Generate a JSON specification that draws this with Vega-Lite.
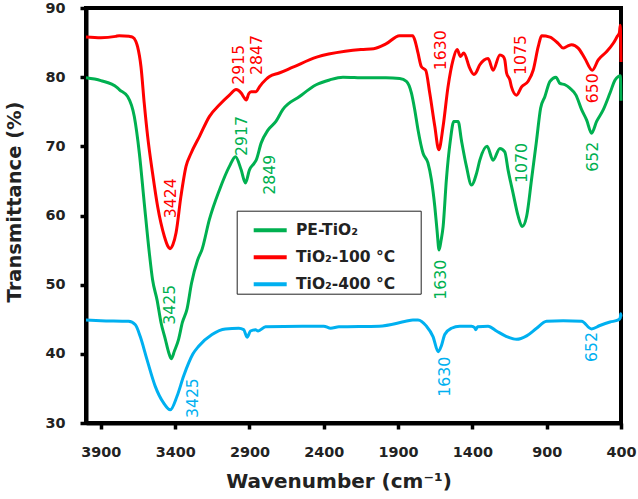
{
  "$schema": "https://vega.github.io/schema/vega-lite/v6.json",
  "width": 535,
  "height": 415,
  "autosize": {"type": "none"},
  "padding": {"left": 86, "top": 8, "right": 17, "bottom": 76},
  "background": "white",
  "config": {
    "view": {"stroke": "black", "strokeWidth": 4},
    "font": "DejaVu Sans"
  },
  "datasets": {
    "spectra": [
      {"series": "TiO₂-100 °C", "wn": 4000, "T": 85.8},
      {"series": "TiO₂-100 °C", "wn": 3900, "T": 85.7},
      {"series": "TiO₂-100 °C", "wn": 3800, "T": 85.9},
      {"series": "TiO₂-100 °C", "wn": 3776, "T": 86.0},
      {"series": "TiO₂-100 °C", "wn": 3710, "T": 85.9},
      {"series": "TiO₂-100 °C", "wn": 3687, "T": 85.8},
      {"series": "TiO₂-100 °C", "wn": 3665, "T": 85.2},
      {"series": "TiO₂-100 °C", "wn": 3653, "T": 84.4},
      {"series": "TiO₂-100 °C", "wn": 3630, "T": 81.5},
      {"series": "TiO₂-100 °C", "wn": 3608, "T": 76.2},
      {"series": "TiO₂-100 °C", "wn": 3585, "T": 71.4},
      {"series": "TiO₂-100 °C", "wn": 3552, "T": 66.1},
      {"series": "TiO₂-100 °C", "wn": 3518, "T": 61.3},
      {"series": "TiO₂-100 °C", "wn": 3473, "T": 57.0},
      {"series": "TiO₂-100 °C", "wn": 3450, "T": 55.6},
      {"series": "TiO₂-100 °C", "wn": 3435, "T": 55.2},
      {"series": "TiO₂-100 °C", "wn": 3415, "T": 55.8},
      {"series": "TiO₂-100 °C", "wn": 3394, "T": 57.5},
      {"series": "TiO₂-100 °C", "wn": 3361, "T": 62.8},
      {"series": "TiO₂-100 °C", "wn": 3327, "T": 67.1},
      {"series": "TiO₂-100 °C", "wn": 3293, "T": 69.0},
      {"series": "TiO₂-100 °C", "wn": 3237, "T": 71.4},
      {"series": "TiO₂-100 °C", "wn": 3170, "T": 74.3},
      {"series": "TiO₂-100 °C", "wn": 3102, "T": 76.0},
      {"series": "TiO₂-100 °C", "wn": 3035, "T": 77.4},
      {"series": "TiO₂-100 °C", "wn": 2990, "T": 78.2},
      {"series": "TiO₂-100 °C", "wn": 2956, "T": 77.7},
      {"series": "TiO₂-100 °C", "wn": 2935, "T": 77.0},
      {"series": "TiO₂-100 °C", "wn": 2922, "T": 76.7},
      {"series": "TiO₂-100 °C", "wn": 2905, "T": 77.6},
      {"series": "TiO₂-100 °C", "wn": 2889, "T": 77.9},
      {"series": "TiO₂-100 °C", "wn": 2855, "T": 77.9},
      {"series": "TiO₂-100 °C", "wn": 2833, "T": 78.6},
      {"series": "TiO₂-100 °C", "wn": 2788, "T": 79.7},
      {"series": "TiO₂-100 °C", "wn": 2765, "T": 80.1},
      {"series": "TiO₂-100 °C", "wn": 2700, "T": 80.6},
      {"series": "TiO₂-100 °C", "wn": 2612, "T": 81.4},
      {"series": "TiO₂-100 °C", "wn": 2448, "T": 82.9},
      {"series": "TiO₂-100 °C", "wn": 2256, "T": 83.75},
      {"series": "TiO₂-100 °C", "wn": 2150, "T": 84.0},
      {"series": "TiO₂-100 °C", "wn": 2064, "T": 84.1},
      {"series": "TiO₂-100 °C", "wn": 1982, "T": 84.8},
      {"series": "TiO₂-100 °C", "wn": 1890, "T": 86.0},
      {"series": "TiO₂-100 °C", "wn": 1802, "T": 86.0},
      {"series": "TiO₂-100 °C", "wn": 1785, "T": 85.2},
      {"series": "TiO₂-100 °C", "wn": 1766, "T": 83.5},
      {"series": "TiO₂-100 °C", "wn": 1743, "T": 81.5},
      {"series": "TiO₂-100 °C", "wn": 1714, "T": 81.0},
      {"series": "TiO₂-100 °C", "wn": 1687, "T": 77.7},
      {"series": "TiO₂-100 °C", "wn": 1653, "T": 72.9},
      {"series": "TiO₂-100 °C", "wn": 1626, "T": 69.5},
      {"series": "TiO₂-100 °C", "wn": 1597, "T": 72.9},
      {"series": "TiO₂-100 °C", "wn": 1564, "T": 78.6},
      {"series": "TiO₂-100 °C", "wn": 1530, "T": 82.5},
      {"series": "TiO₂-100 °C", "wn": 1503, "T": 84.0},
      {"series": "TiO₂-100 °C", "wn": 1480, "T": 83.0},
      {"series": "TiO₂-100 °C", "wn": 1458, "T": 83.5},
      {"series": "TiO₂-100 °C", "wn": 1418, "T": 81.3},
      {"series": "TiO₂-100 °C", "wn": 1390, "T": 80.4},
      {"series": "TiO₂-100 °C", "wn": 1377, "T": 80.6},
      {"series": "TiO₂-100 °C", "wn": 1350, "T": 81.8},
      {"series": "TiO₂-100 °C", "wn": 1294, "T": 82.7},
      {"series": "TiO₂-100 °C", "wn": 1261, "T": 81.0},
      {"series": "TiO₂-100 °C", "wn": 1215, "T": 83.2},
      {"series": "TiO₂-100 °C", "wn": 1193, "T": 83.0},
      {"series": "TiO₂-100 °C", "wn": 1182, "T": 82.5},
      {"series": "TiO₂-100 °C", "wn": 1170, "T": 80.6},
      {"series": "TiO₂-100 °C", "wn": 1148, "T": 79.6},
      {"series": "TiO₂-100 °C", "wn": 1137, "T": 78.6},
      {"series": "TiO₂-100 °C", "wn": 1103, "T": 77.4},
      {"series": "TiO₂-100 °C", "wn": 1069, "T": 78.6},
      {"series": "TiO₂-100 °C", "wn": 1025, "T": 79.4},
      {"series": "TiO₂-100 °C", "wn": 991, "T": 81.0},
      {"series": "TiO₂-100 °C", "wn": 957, "T": 84.4},
      {"series": "TiO₂-100 °C", "wn": 934, "T": 86.0},
      {"series": "TiO₂-100 °C", "wn": 878, "T": 85.8},
      {"series": "TiO₂-100 °C", "wn": 823, "T": 84.9},
      {"series": "TiO₂-100 °C", "wn": 789, "T": 84.2},
      {"series": "TiO₂-100 °C", "wn": 760, "T": 84.5},
      {"series": "TiO₂-100 °C", "wn": 732, "T": 84.7},
      {"series": "TiO₂-100 °C", "wn": 688, "T": 84.2},
      {"series": "TiO₂-100 °C", "wn": 643, "T": 82.7},
      {"series": "TiO₂-100 °C", "wn": 593, "T": 81.0},
      {"series": "TiO₂-100 °C", "wn": 553, "T": 82.5},
      {"series": "TiO₂-100 °C", "wn": 496, "T": 83.7},
      {"series": "TiO₂-100 °C", "wn": 452, "T": 84.9},
      {"series": "TiO₂-100 °C", "wn": 425, "T": 85.9},
      {"series": "TiO₂-100 °C", "wn": 411, "T": 86.4},
      {"series": "TiO₂-100 °C", "wn": 405, "T": 87.5},
      {"series": "TiO₂-100 °C", "wn": 402, "T": 85.0},
      {"series": "TiO₂-100 °C", "wn": 400, "T": 82.2},

      {"series": "PE-TiO₂", "wn": 4000, "T": 79.9},
      {"series": "PE-TiO₂", "wn": 3900, "T": 79.5},
      {"series": "PE-TiO₂", "wn": 3790, "T": 78.5},
      {"series": "PE-TiO₂", "wn": 3776, "T": 78.2},
      {"series": "PE-TiO₂", "wn": 3720, "T": 77.2},
      {"series": "PE-TiO₂", "wn": 3675, "T": 74.3},
      {"series": "PE-TiO₂", "wn": 3641, "T": 69.0},
      {"series": "PE-TiO₂", "wn": 3608, "T": 61.8},
      {"series": "PE-TiO₂", "wn": 3574, "T": 54.6},
      {"series": "PE-TiO₂", "wn": 3552, "T": 50.7},
      {"series": "PE-TiO₂", "wn": 3522, "T": 47.8},
      {"series": "PE-TiO₂", "wn": 3495, "T": 44.5},
      {"series": "PE-TiO₂", "wn": 3466, "T": 42.1},
      {"series": "PE-TiO₂", "wn": 3445, "T": 40.3},
      {"series": "PE-TiO₂", "wn": 3426, "T": 39.3},
      {"series": "PE-TiO₂", "wn": 3405, "T": 40.4},
      {"series": "PE-TiO₂", "wn": 3377, "T": 42.1},
      {"series": "PE-TiO₂", "wn": 3352, "T": 44.5},
      {"series": "PE-TiO₂", "wn": 3320, "T": 46.5},
      {"series": "PE-TiO₂", "wn": 3290, "T": 50.2},
      {"series": "PE-TiO₂", "wn": 3250, "T": 53.5},
      {"series": "PE-TiO₂", "wn": 3219, "T": 55.1},
      {"series": "PE-TiO₂", "wn": 3170, "T": 59.4},
      {"series": "PE-TiO₂", "wn": 3102, "T": 63.7},
      {"series": "PE-TiO₂", "wn": 3035, "T": 67.1},
      {"series": "PE-TiO₂", "wn": 2994, "T": 68.5},
      {"series": "PE-TiO₂", "wn": 2956, "T": 66.6},
      {"series": "PE-TiO₂", "wn": 2927, "T": 64.7},
      {"series": "PE-TiO₂", "wn": 2900, "T": 66.6},
      {"series": "PE-TiO₂", "wn": 2870, "T": 67.5},
      {"series": "PE-TiO₂", "wn": 2855, "T": 68.0},
      {"series": "PE-TiO₂", "wn": 2821, "T": 70.5},
      {"series": "PE-TiO₂", "wn": 2777, "T": 72.3},
      {"series": "PE-TiO₂", "wn": 2722, "T": 73.6},
      {"series": "PE-TiO₂", "wn": 2676, "T": 75.3},
      {"series": "PE-TiO₂", "wn": 2563, "T": 77.2},
      {"series": "PE-TiO₂", "wn": 2451, "T": 78.9},
      {"series": "PE-TiO₂", "wn": 2361, "T": 79.6},
      {"series": "PE-TiO₂", "wn": 2271, "T": 80.0},
      {"series": "PE-TiO₂", "wn": 2119, "T": 79.9},
      {"series": "PE-TiO₂", "wn": 1982, "T": 79.9},
      {"series": "PE-TiO₂", "wn": 1889, "T": 79.8},
      {"series": "PE-TiO₂", "wn": 1844, "T": 79.4},
      {"series": "PE-TiO₂", "wn": 1810, "T": 77.7},
      {"series": "PE-TiO₂", "wn": 1788, "T": 75.3},
      {"series": "PE-TiO₂", "wn": 1766, "T": 72.4},
      {"series": "PE-TiO₂", "wn": 1732, "T": 69.0},
      {"series": "PE-TiO₂", "wn": 1699, "T": 67.6},
      {"series": "PE-TiO₂", "wn": 1676, "T": 65.2},
      {"series": "PE-TiO₂", "wn": 1653, "T": 61.3},
      {"series": "PE-TiO₂", "wn": 1638, "T": 57.9},
      {"series": "PE-TiO₂", "wn": 1624, "T": 55.0},
      {"series": "PE-TiO₂", "wn": 1610, "T": 56.5},
      {"series": "PE-TiO₂", "wn": 1597, "T": 58.4},
      {"series": "PE-TiO₂", "wn": 1575, "T": 65.2},
      {"series": "PE-TiO₂", "wn": 1548, "T": 70.9},
      {"series": "PE-TiO₂", "wn": 1525, "T": 73.6},
      {"series": "PE-TiO₂", "wn": 1496, "T": 73.6},
      {"series": "PE-TiO₂", "wn": 1474, "T": 70.9},
      {"series": "PE-TiO₂", "wn": 1440, "T": 67.1},
      {"series": "PE-TiO₂", "wn": 1406, "T": 64.4},
      {"series": "PE-TiO₂", "wn": 1372, "T": 66.1},
      {"series": "PE-TiO₂", "wn": 1350, "T": 68.0},
      {"series": "PE-TiO₂", "wn": 1301, "T": 70.0},
      {"series": "PE-TiO₂", "wn": 1261, "T": 68.0},
      {"series": "PE-TiO₂", "wn": 1215, "T": 69.7},
      {"series": "PE-TiO₂", "wn": 1182, "T": 69.2},
      {"series": "PE-TiO₂", "wn": 1160, "T": 66.6},
      {"series": "PE-TiO₂", "wn": 1126, "T": 63.2},
      {"series": "PE-TiO₂", "wn": 1092, "T": 59.9},
      {"series": "PE-TiO₂", "wn": 1065, "T": 58.4},
      {"series": "PE-TiO₂", "wn": 1035, "T": 59.9},
      {"series": "PE-TiO₂", "wn": 1002, "T": 65.2},
      {"series": "PE-TiO₂", "wn": 968, "T": 70.9},
      {"series": "PE-TiO₂", "wn": 941, "T": 75.5},
      {"series": "PE-TiO₂", "wn": 912, "T": 77.2},
      {"series": "PE-TiO₂", "wn": 878, "T": 79.4},
      {"series": "PE-TiO₂", "wn": 838, "T": 80.0},
      {"series": "PE-TiO₂", "wn": 811, "T": 79.1},
      {"series": "PE-TiO₂", "wn": 777, "T": 78.9},
      {"series": "PE-TiO₂", "wn": 744, "T": 78.4},
      {"series": "PE-TiO₂", "wn": 703, "T": 77.4},
      {"series": "PE-TiO₂", "wn": 665, "T": 75.3},
      {"series": "PE-TiO₂", "wn": 631, "T": 73.8},
      {"series": "PE-TiO₂", "wn": 598, "T": 71.9},
      {"series": "PE-TiO₂", "wn": 564, "T": 73.6},
      {"series": "PE-TiO₂", "wn": 519, "T": 75.3},
      {"series": "PE-TiO₂", "wn": 474, "T": 77.7},
      {"series": "PE-TiO₂", "wn": 440, "T": 79.6},
      {"series": "PE-TiO₂", "wn": 418, "T": 80.1},
      {"series": "PE-TiO₂", "wn": 405, "T": 80.2},
      {"series": "PE-TiO₂", "wn": 402, "T": 79.0},
      {"series": "PE-TiO₂", "wn": 400, "T": 76.6},

      {"series": "TiO₂-400 °C", "wn": 4000, "T": 44.9},
      {"series": "TiO₂-400 °C", "wn": 3900, "T": 44.8},
      {"series": "TiO₂-400 °C", "wn": 3714, "T": 44.7},
      {"series": "TiO₂-400 °C", "wn": 3668, "T": 44.2},
      {"series": "TiO₂-400 °C", "wn": 3635, "T": 42.5},
      {"series": "TiO₂-400 °C", "wn": 3590, "T": 39.2},
      {"series": "TiO₂-400 °C", "wn": 3534, "T": 35.3},
      {"series": "TiO₂-400 °C", "wn": 3478, "T": 32.9},
      {"series": "TiO₂-400 °C", "wn": 3433, "T": 31.9},
      {"series": "TiO₂-400 °C", "wn": 3387, "T": 33.9},
      {"series": "TiO₂-400 °C", "wn": 3343, "T": 36.8},
      {"series": "TiO₂-400 °C", "wn": 3309, "T": 38.7},
      {"series": "TiO₂-400 °C", "wn": 3280, "T": 40.0},
      {"series": "TiO₂-400 °C", "wn": 3242, "T": 41.1},
      {"series": "TiO₂-400 °C", "wn": 3152, "T": 42.8},
      {"series": "TiO₂-400 °C", "wn": 3062, "T": 43.6},
      {"series": "TiO₂-400 °C", "wn": 2972, "T": 43.7},
      {"series": "TiO₂-400 °C", "wn": 2939, "T": 43.5},
      {"series": "TiO₂-400 °C", "wn": 2916, "T": 42.4},
      {"series": "TiO₂-400 °C", "wn": 2893, "T": 43.3},
      {"series": "TiO₂-400 °C", "wn": 2860, "T": 43.5},
      {"series": "TiO₂-400 °C", "wn": 2842, "T": 43.3},
      {"series": "TiO₂-400 °C", "wn": 2792, "T": 43.9},
      {"series": "TiO₂-400 °C", "wn": 2545, "T": 44.0},
      {"series": "TiO₂-400 °C", "wn": 2400, "T": 44.0},
      {"series": "TiO₂-400 °C", "wn": 2354, "T": 43.7},
      {"series": "TiO₂-400 °C", "wn": 2298, "T": 43.9},
      {"series": "TiO₂-400 °C", "wn": 2028, "T": 44.0},
      {"series": "TiO₂-400 °C", "wn": 1849, "T": 44.7},
      {"series": "TiO₂-400 °C", "wn": 1800, "T": 44.9},
      {"series": "TiO₂-400 °C", "wn": 1766, "T": 44.9},
      {"series": "TiO₂-400 °C", "wn": 1709, "T": 44.0},
      {"series": "TiO₂-400 °C", "wn": 1665, "T": 42.5},
      {"series": "TiO₂-400 °C", "wn": 1630, "T": 40.3},
      {"series": "TiO₂-400 °C", "wn": 1608, "T": 41.2},
      {"series": "TiO₂-400 °C", "wn": 1586, "T": 42.8},
      {"series": "TiO₂-400 °C", "wn": 1541, "T": 43.7},
      {"series": "TiO₂-400 °C", "wn": 1485, "T": 44.0},
      {"series": "TiO₂-400 °C", "wn": 1406, "T": 44.0},
      {"series": "TiO₂-400 °C", "wn": 1385, "T": 43.8},
      {"series": "TiO₂-400 °C", "wn": 1377, "T": 43.5},
      {"series": "TiO₂-400 °C", "wn": 1365, "T": 43.9},
      {"series": "TiO₂-400 °C", "wn": 1294, "T": 44.0},
      {"series": "TiO₂-400 °C", "wn": 1238, "T": 43.3},
      {"series": "TiO₂-400 °C", "wn": 1170, "T": 42.5},
      {"series": "TiO₂-400 °C", "wn": 1103, "T": 42.1},
      {"series": "TiO₂-400 °C", "wn": 1035, "T": 42.6},
      {"series": "TiO₂-400 °C", "wn": 968, "T": 43.7},
      {"series": "TiO₂-400 °C", "wn": 901, "T": 44.7},
      {"series": "TiO₂-400 °C", "wn": 789, "T": 44.8},
      {"series": "TiO₂-400 °C", "wn": 665, "T": 44.7},
      {"series": "TiO₂-400 °C", "wn": 598, "T": 43.6},
      {"series": "TiO₂-400 °C", "wn": 542, "T": 44.1},
      {"series": "TiO₂-400 °C", "wn": 474, "T": 44.6},
      {"series": "TiO₂-400 °C", "wn": 418, "T": 44.9},
      {"series": "TiO₂-400 °C", "wn": 405, "T": 45.2},
      {"series": "TiO₂-400 °C", "wn": 402, "T": 45.8},
      {"series": "TiO₂-400 °C", "wn": 400, "T": 45.4}
    ],
    "peaks": [
      {"series": "TiO₂-100 °C", "wn": 3425, "T": 62.5, "label": "3424"},
      {"series": "TiO₂-100 °C", "wn": 2973, "T": 81.8, "label": "2915"},
      {"series": "TiO₂-100 °C", "wn": 2848, "T": 83.2, "label": "2847"},
      {"series": "TiO₂-100 °C", "wn": 1614, "T": 83.9, "label": "1630"},
      {"series": "TiO₂-100 °C", "wn": 1075, "T": 83.2, "label": "1075"},
      {"series": "TiO₂-100 °C", "wn": 587, "T": 78.4, "label": "650"},
      {"series": "PE-TiO₂", "wn": 2951, "T": 71.5, "label": "2917"},
      {"series": "PE-TiO₂", "wn": 2765, "T": 65.9, "label": "2849"},
      {"series": "PE-TiO₂", "wn": 3433, "T": 47.1, "label": "3425"},
      {"series": "PE-TiO₂", "wn": 1608, "T": 50.7, "label": "1630"},
      {"series": "PE-TiO₂", "wn": 1064, "T": 67.6, "label": "1070"},
      {"series": "PE-TiO₂", "wn": 591, "T": 68.5, "label": "652"},
      {"series": "TiO₂-400 °C", "wn": 3281, "T": 33.6, "label": "3425"},
      {"series": "TiO₂-400 °C", "wn": 1583, "T": 36.7, "label": "1630"},
      {"series": "TiO₂-400 °C", "wn": 595, "T": 41.0, "label": "652"}
    ]
  },
  "layer": [
    {
      "data": {"name": "spectra"},
      "mark": {"type": "line", "strokeWidth": 3, "interpolate": "monotone"},
      "encoding": {
        "x": {
          "field": "wn", "type": "quantitative",
          "scale": {"domain": [400, 4000], "reverse": true, "nice": false, "zero": false},
          "axis": {
            "values": [3900, 3400, 2900, 2400, 1900, 1400, 900, 400],
            "format": "d",
            "title": "Wavenumber (cm⁻¹)",
            "grid": false,
            "domainColor": "black", "domainWidth": 4,
            "tickColor": "black", "tickWidth": 3.5, "tickSize": 6,
            "labelFont": "DejaVu Sans", "labelFontSize": 14.4, "labelFontWeight": "bold",
            "labelColor": "#222222", "labelPadding": 16, "labelFlush": false, "labelOverlap": false,
            "titleFont": "DejaVu Sans", "titleFontSize": 20, "titleFontWeight": "bold",
            "titleColor": "#222222", "titleX": 252.5, "titleY": 64, "titleAlign": "center",
            "titleBaseline": "alphabetic"
          }
        },
        "y": {
          "field": "T", "type": "quantitative",
          "scale": {"domain": [30, 90], "nice": false, "zero": false},
          "axis": {
            "values": [30, 40, 50, 60, 70, 80, 90],
            "title": "Transmittance (%)",
            "grid": false,
            "domainColor": "black", "domainWidth": 4,
            "tickColor": "black", "tickWidth": 3.5, "tickSize": 6,
            "labelFont": "DejaVu Sans", "labelFontSize": 14.4, "labelFontWeight": "bold",
            "labelColor": "#222222", "labelPadding": 15, "labelFlush": false, "labelOverlap": false,
            "titleFont": "DejaVu Sans", "titleFontSize": 19.5, "titleFontWeight": "bold",
            "titleColor": "#222222", "titleX": -65.6, "titleY": 193.5, "titleAlign": "center",
            "titleBaseline": "alphabetic", "titleAngle": 270
          }
        },
        "color": {
          "field": "series", "type": "nominal",
          "scale": {"domain": ["PE-TiO₂", "TiO₂-100 °C", "TiO₂-400 °C"], "range": ["#00B050", "#FF0000", "#00B0F0"]},
          "legend": {
            "orient": "none", "legendX": 150.7, "legendY": 202.7, "direction": "vertical",
            "title": null, "strokeColor": "#222222", "fillColor": "white",
            "padding": 1, "symbolType": "stroke", "symbolSize": 1089, "symbolStrokeWidth": 4,
            "symbolOffset": 14, "labelOffset": 7.3, "rowPadding": -0.5,
            "labelExpr": "datum.label + '\u2800\u2800'",
            "labelFont": "DejaVu Sans", "labelFontSize": 15.5, "labelFontWeight": "bold",
            "labelColor": "#222222", "labelLimit": 300
          }
        }
      }
    },
    {
      "data": {"name": "peaks"},
      "mark": {"type": "text", "angle": 270, "font": "DejaVu Sans", "fontSize": 15.7, "align": "center", "baseline": "middle"},
      "encoding": {
        "x": {"field": "wn", "type": "quantitative"},
        "y": {"field": "T", "type": "quantitative"},
        "text": {"field": "label"},
        "color": {
          "field": "series", "type": "nominal",
          "scale": {"domain": ["PE-TiO₂", "TiO₂-100 °C", "TiO₂-400 °C"], "range": ["#00B050", "#FF0000", "#00B0F0"]},
          "legend": null
        }
      }
    }
  ],
  "resolve": {"scale": {"color": "independent"}, "legend": {"color": "independent"}}
}
